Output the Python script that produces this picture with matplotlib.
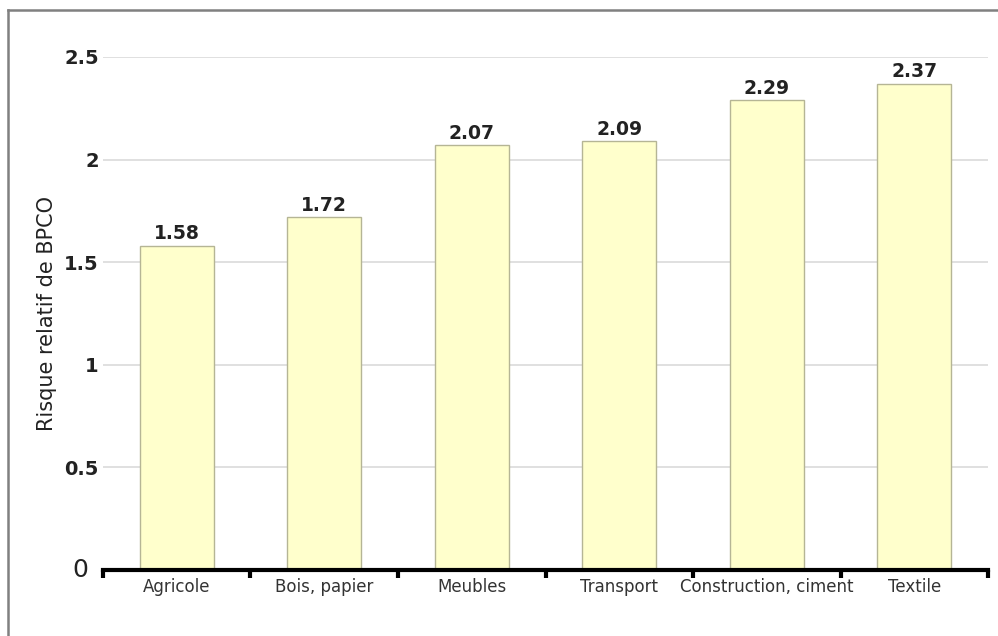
import matplotlib.pyplot as plt
import numpy as np

categories = ["Agricole", "Bois, papier", "Meubles", "Transport",
              "Construction, ciment", "Textile"]
values = [1.58, 1.72, 2.07, 2.09, 2.29, 2.37]
yticks = [0, 0.5, 1, 1.5, 2, 2.5]
ytick_labels = ["", "0.5", "1", "1.5", "2", "2.5"]

fig = plt.figure(figsize=(9.98, 6.36), dpi=100)
ax = fig.add_axes([0.1032, 0.1038, 0.8868, 0.8066])

# outer frame (left and top edges)
fig.add_artist(plt.Line2D([0.008, 0.008], [0, 0.984], color="#808080", lw=1.8,
                          transform=fig.transFigure))
fig.add_artist(plt.Line2D([0.008, 1], [0.984, 0.984], color="#808080", lw=1.8,
                          transform=fig.transFigure))

x = np.arange(len(categories))
ax.bar(x, values, width=0.5, color="#FFFFCC", edgecolor="#B5B595", lw=1, zorder=2)

for xi, v in zip(x, values):
    ax.text(xi, v + 0.012, f"{v:.2f}", ha="center", va="bottom",
            fontsize=13.5, fontweight="bold", color="#222222")

ax.set_xlim(-0.5, len(categories) - 0.5)
ax.set_ylim(0, 2.5)
ax.set_yticks(yticks)
ax.set_yticklabels(ytick_labels, fontsize=14, fontweight="bold")
ax.tick_params(axis="y", length=0, pad=3, colors="#222222")
ax.yaxis.grid(True, color="#DADADA", lw=1.2, zorder=0)
ax.set_axisbelow(True)

# the zero label is drawn larger and a bit further from the axis
ax.text(-0.017, 0, "0", transform=ax.get_yaxis_transform(), ha="right",
        va="center", fontsize=18, color="#222222")

ax.set_xticks(x)
ax.set_xticklabels(categories, fontsize=12, color="#333333")
ax.tick_params(axis="x", length=0, pad=6)
# boundary ticks
ax.set_xticks(np.arange(-0.5, len(categories)), minor=True)
ax.tick_params(axis="x", which="minor", length=6, width=3, direction="out", color="black")

for s in ["top", "right", "left"]:
    ax.spines[s].set_visible(False)
ax.spines["bottom"].set_linewidth(3)

ax.set_ylabel("Risque relatif de BPCO", fontsize=15, color="#222222")
ax.yaxis.set_label_coords(-0.052, 0.5)

fig.savefig("out.png", dpi=100)
